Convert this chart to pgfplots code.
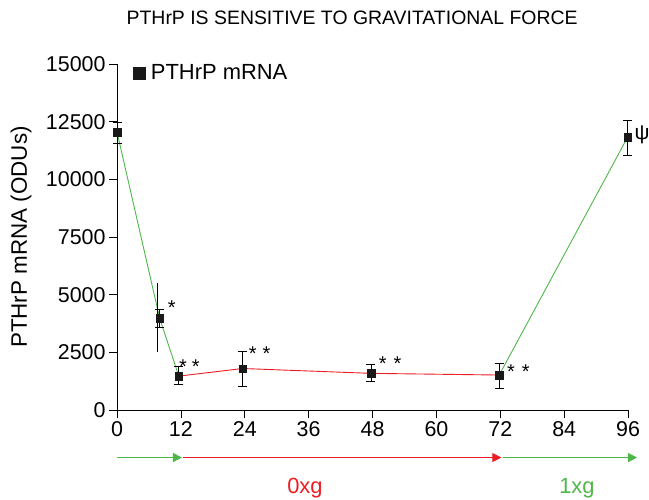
\documentclass[border=0pt]{standalone}
\usepackage{fontspec}
\setmainfont{Liberation Sans}
\usepackage{pgfplots}
\pgfplotsset{compat=1.18}
\usetikzlibrary{arrows.meta}

\definecolor{pgreen}{HTML}{4DB848}
\definecolor{pred}{HTML}{ED1C24}

\begin{document}
\begin{tikzpicture}[font=\fontsize{22}{24}\selectfont]
\begin{axis}[
  scale only axis, width=511bp, height=346bp,
  xmin=0, xmax=96, ymin=0, ymax=15000,
  xtick={0,12,...,96}, ytick={0,2500,...,15000},
  axis x line*=bottom, axis y line*=left,
  tick align=outside, major tick length=8bp,
  tick style={black, line width=0.8pt}, axis line style={line width=0.8pt},
  scaled y ticks=false,
  /pgf/number format/assume math mode=true,
  yticklabel={\pgfmathprintnumber[fixed,1000 sep={}]{\tick}},
  xticklabel style={font=\fontsize{21.5}{24}\selectfont},
  yticklabel style={font=\fontsize{21.5}{24}\selectfont},
  ylabel={PTHrP mRNA (ODUs)},
  ylabel style={font=\fontsize{22.5}{25}\selectfont, at={(rel axis cs:-0.188,0.5)}, anchor=center},
  title={PTHrP IS SENSITIVE TO GRAVITATIONAL FORCE},
  title style={font=\fontsize{19.5}{22}\selectfont, at={(rel axis cs:0.46,1.117)}, anchor=center},
  clip=false,
  legend style={draw=none, fill=none, at={(rel axis cs:0.025,1.01)}, anchor=north west,
    font=\fontsize{22}{24}\selectfont},
  legend image code/.code={\fill[black!90] (0.0cm,-0.21cm) rectangle (0.42cm,0.21cm);
    \path (0.55cm,0);},
]
% green segment, 0 to 12 h
\addplot[pgreen, line width=0.9pt, forget plot] coordinates {(0,12050) (8,3990) (11.6,1470)};
% red segment, 0xg
\addplot[pred, line width=0.9pt, forget plot] coordinates {(11.6,1470) (23.6,1800) (47.7,1590) (71.8,1517)};
% green segment, back at 1xg
\addplot[pgreen, line width=0.9pt, forget plot] coordinates {(71.8,1517) (95.9,11820)};

% long uncapped bar beside the 8 h point
\addplot[draw=none, mark=none, forget plot,
  error bars/.cd, y dir=both, y explicit,
  error bar style={black, line width=0.8pt}, error mark=none]
  coordinates {(7.6,4010) +-(0,1500)};

\addplot[only marks, mark=square*, mark size=3.8bp, black!90,
  error bars/.cd, y dir=both, y explicit,
  error bar style={black, line width=0.8pt},
  error mark options={rotate=90, mark size=4.5bp, line width=0.8pt}]
  coordinates {
    (0,12050) +=(0,440) -=(0,480)
    (8,3990) +=(0,390) -=(0,390)
    (11.6,1470) +=(0,400) -=(0,340)
    (23.6,1800) +=(0,760) -=(0,760)
    (47.7,1590) +=(0,390) -=(0,360)
    (71.8,1517) +=(0,510) -=(0,580)
    (95.9,11820) +=(0,720) -=(0,760)
  };
\addlegendentry{PTHrP mRNA}

% significance marks
\tikzset{star/.style={font=\fontsize{20}{22}\selectfont, inner sep=0pt}}
\node[star] at (axis cs:10.3,4420) {*};
\node[star] at (axis cs:12.4,1860) {*};
\node[star] at (axis cs:14.8,1860) {*};
\node[star] at (axis cs:25.5,2450) {*};
\node[star] at (axis cs:28.1,2450) {*};
\node[star] at (axis cs:49.9,2030) {*};
\node[star] at (axis cs:52.7,2030) {*};
\node[star] at (axis cs:74.0,1650) {*};
\node[star] at (axis cs:76.8,1650) {*};
\node[anchor=west, font=\fontsize{21}{23}\selectfont, inner sep=0pt] at (axis cs:97.2,11950) {ψ};

\draw[pgreen, line width=0.9pt, -{Triangle[length=9bp,width=9bp]}]
  (axis cs:0,-2060) -- (axis cs:12.2,-2060);
\draw[pred, line width=0.9pt, -{Triangle[length=9bp,width=9bp]}]
  (axis cs:12.3,-2060) -- (axis cs:72.2,-2060);
\draw[pgreen, line width=0.9pt, -{Triangle[length=9bp,width=9bp]}]
  (axis cs:72.5,-2060) -- (axis cs:97.7,-2060);
\node[pred] at (axis cs:35.3,-3380) {0xg};
\node[pgreen] at (axis cs:86.4,-3380) {1xg};

\coordinate (bl) at (rel axis cs:-0.229,-0.260);
\coordinate (tr) at (rel axis cs:1.041,1.185);
\end{axis}
\pgfresetboundingbox
\path (bl) rectangle (tr);
\end{tikzpicture}
\end{document}
